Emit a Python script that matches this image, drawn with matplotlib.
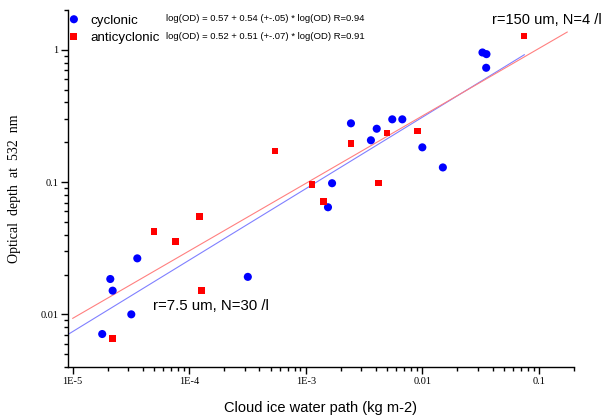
import numpy as np
import matplotlib
matplotlib.use("Agg")
import matplotlib.pyplot as plt

# ---------------------------------------------------------------------------
# Data
# ---------------------------------------------------------------------------
cyc_iwp = [1.79e-5, 2.10e-5, 2.2e-5, 3.18e-5, 3.58e-5, 3.18e-4,
           1.55e-3, 1.68e-3, 2.44e-3, 3.62e-3, 4.06e-3, 5.52e-3,
           6.73e-3, 0.010, 0.0150, 0.0328, 0.0355, 0.0353]
cyc_od = [0.0071, 0.0185, 0.0151, 0.0100, 0.0265, 0.0192,
          0.0645, 0.098, 0.278, 0.207, 0.253, 0.298,
          0.298, 0.183, 0.129, 0.954, 0.927, 0.731]

anti_iwp = [2.2e-5, 4.98e-5, 7.67e-5, 1.23e-4, 1.27e-4, 5.45e-4,
            1.13e-3, 1.42e-3, 2.44e-3, 4.22e-3, 4.97e-3, 9.03e-3, 0.0746]
anti_od = [0.00654, 0.042, 0.0357, 0.055, 0.0151, 0.172,
           0.0958, 0.0708, 0.196, 0.0985, 0.235, 0.243, 1.27]

# fits: log(OD) = a + b * log(IWP)
cyc_fit = (0.57, 0.54)
anti_fit = (0.52, 0.51)
cyc_fit_range = (9.1e-6, 0.075)
anti_fit_range = (1.0e-5, 0.175)

x_ticks = [1e-5, 1e-4, 1e-3, 1e-2, 1e-1]
x_ticklabels = ["1E-5", "1E-4", "1E-3", "0.01", "0.1"]
y_ticks = [0.01, 0.1, 1]
y_ticklabels = ["0.01", "0.1", "1"]

# ---------------------------------------------------------------------------
# Figure
# ---------------------------------------------------------------------------
plt.rcParams["font.family"] = "Liberation Sans"

fig = plt.figure(figsize=(6.08, 4.15), dpi=100)
ax = fig.add_axes([0.1118, 0.1157, 0.8322, 0.8603])

ax.set_xscale("log")
ax.set_yscale("log")
ax.set_xlim(9.1e-6, 0.2)
ax.set_ylim(0.004, 2.0)


def fit_line(fit, xr):
    xs = np.array(xr)
    return xs, 10 ** (fit[0] + fit[1] * np.log10(xs))


xs, ys = fit_line(cyc_fit, cyc_fit_range)
ax.plot(xs, ys, color="#8080ff", lw=0.8, zorder=2)
xs, ys = fit_line(anti_fit, anti_fit_range)
ax.plot(xs, ys, color="#ff8080", lw=0.8, zorder=2)

ax.scatter(cyc_iwp, cyc_od, s=34, marker="o", color="#0000ff",
           edgecolor="none", zorder=3, label="cyclonic")
ax.scatter(anti_iwp, anti_od, s=24, marker="s", color="#ff0000",
           edgecolor="none", zorder=3, label="anticyclonic")

ax.legend(loc="upper left", frameon=False, fontsize=9.6, handletextpad=0.6,
          borderaxespad=0.0, bbox_to_anchor=(-0.016, 1.002), labelspacing=0.35,
          scatteryoffsets=[0.5], handlelength=1.3)

ax.text(0.193, 0.975, "log(OD) = 0.57 + 0.54 (+-.05) * log(OD) R=0.94",
        transform=ax.transAxes, fontsize=6.8, va="center")
ax.text(0.193, 0.927, "log(OD) = 0.52 + 0.51 (+-.07) * log(OD) R=0.91",
        transform=ax.transAxes, fontsize=6.8, va="center")
ax.text(0.838, 0.971, "r=150 um, N=4 /l", transform=ax.transAxes,
        fontsize=10.5, va="center")
ax.text(0.168, 0.172, "r=7.5 um, N=30 /l", transform=ax.transAxes,
        fontsize=10.8, va="center")

ax.set_xticks(x_ticks)
ax.set_xticklabels(x_ticklabels)
ax.set_yticks(y_ticks)
ax.set_yticklabels(y_ticklabels)
for lab in ax.get_xticklabels() + ax.get_yticklabels():
    lab.set_family("Liberation Serif")
    lab.set_fontsize(7.5)

ax.tick_params(which="major", direction="out", length=5, width=1)
ax.tick_params(which="minor", direction="out", length=3, width=1)
ax.tick_params(axis="x", pad=2)
ax.tick_params(axis="y", pad=2)

ax.spines["top"].set_visible(False)
ax.spines["right"].set_visible(False)
ax.spines["left"].set_linewidth(1)
ax.spines["bottom"].set_linewidth(1)

ax.set_xlabel("Cloud ice water path (kg m-2)", fontsize=10.5, labelpad=11)
ax.set_ylabel("Optical  depth  at  532  nm", fontsize=10,
              family="Liberation Serif", labelpad=14)

fig.savefig("out.png", dpi=100)
